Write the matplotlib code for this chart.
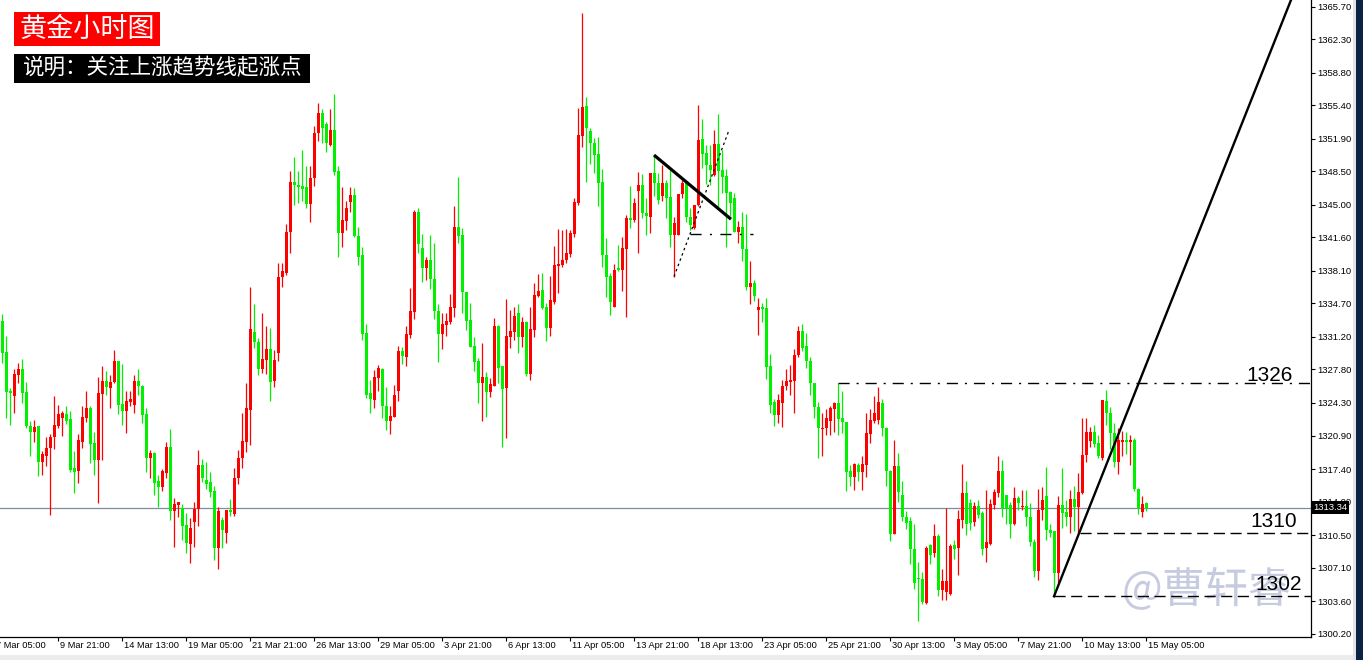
import matplotlib

matplotlib.use("Agg")
import matplotlib.pyplot as plt
import numpy as np
from matplotlib.patches import Rectangle
from matplotlib.transforms import blended_transform_factory

# 4H gold candles (price units)
opens = [
    1332.9, 1329.6, 1325.6, 1325.0, 1327.2, 1327.9, 1325.4, 1321.9, 1321.3, 1321.9,
    1318.1, 1318.8, 1319.6, 1320.7, 1321.9, 1322.7, 1323.1, 1322.6, 1317.5, 1317.2,
    1320.2, 1322.7, 1323.8, 1320.1, 1318.3, 1325.2, 1326.6, 1325.9, 1326.5, 1328.7,
    1324.2, 1323.5, 1324.4, 1324.1, 1326.6, 1326.1, 1323.1, 1318.6, 1319.1, 1316.2,
    1315.5, 1317.0, 1319.7, 1313.0, 1313.6, 1313.3, 1311.5, 1309.6, 1311.9, 1313.2,
    1317.8, 1316.3, 1316.0, 1315.1, 1309.2, 1312.1, 1310.7, 1313.1, 1312.7, 1316.5,
    1318.5, 1320.2, 1323.6, 1331.7, 1330.7, 1327.8, 1328.8, 1329.9, 1326.6, 1329.5,
    1337.5, 1337.9, 1342.2, 1347.4, 1347.1, 1347.0, 1346.9, 1345.1, 1347.8, 1352.5,
    1354.6, 1353.4, 1351.2, 1352.8, 1348.5, 1342.1, 1343.3, 1345.3, 1346.0, 1341.7,
    1339.8, 1331.6, 1325.3, 1324.6, 1326.9, 1327.9, 1324.0, 1322.4, 1322.8, 1325.5,
    1329.7, 1329.1, 1331.4, 1333.8, 1344.2, 1340.5, 1338.4, 1339.2, 1337.3, 1333.9,
    1331.5, 1332.4, 1332.8, 1334.2, 1342.7, 1341.8, 1335.9, 1333.0, 1330.3, 1328.7,
    1326.4, 1327.0, 1325.4, 1326.1, 1332.3, 1328.2, 1325.9, 1331.2, 1331.7, 1333.7,
    1331.2, 1332.8, 1327.3, 1331.9, 1335.5, 1336.1, 1334.3, 1332.1, 1334.9, 1338.6,
    1338.7, 1339.2, 1339.9, 1342.0, 1345.2, 1352.2, 1355.3, 1352.7, 1351.5, 1350.3,
    1347.4, 1339.8, 1337.6, 1334.3, 1338.4, 1338.2, 1340.4, 1343.6, 1343.4, 1346.4,
    1347.1, 1344.1, 1343.7, 1348.3, 1347.3, 1345.9, 1347.3, 1345.8, 1341.8, 1341.8,
    1346.1, 1347.4, 1343.7, 1342.6, 1345.0, 1351.9, 1350.4, 1349.2, 1348.1, 1351.4,
    1348.6, 1348.0, 1346.3, 1345.7, 1342.2, 1342.7, 1340.4, 1336.4, 1336.8, 1334.0,
    1334.3, 1334.2, 1328.2, 1324.4, 1323.0, 1324.3, 1326.1, 1326.5, 1326.6, 1329.3,
    1331.8, 1330.2, 1328.7, 1326.4, 1323.9, 1321.6, 1321.7, 1322.4, 1323.7, 1324.3,
    1322.7, 1322.3, 1317.2, 1316.6, 1317.8, 1317.1, 1317.8, 1321.1, 1322.4, 1322.5,
    1324.3, 1321.7, 1317.2, 1310.6, 1317.7, 1314.7, 1312.4, 1312.0, 1309.0, 1306.0,
    1305.9, 1303.4, 1309.5, 1308.6, 1310.4, 1304.8, 1304.6, 1304.3, 1309.5, 1309.1,
    1312.1, 1314.9, 1313.8, 1311.9, 1313.5, 1312.8, 1309.1, 1309.6, 1313.6, 1314.9,
    1317.2, 1314.7, 1313.6, 1311.7, 1314.4, 1313.4, 1313.5, 1312.4, 1309.8, 1306.7,
    1313.1, 1314.6, 1311.0, 1310.9, 1306.5, 1313.6, 1312.9, 1312.4, 1314.3, 1313.4,
    1314.9, 1318.9, 1320.3, 1321.3, 1320.1, 1318.6, 1324.5, 1323.3, 1321.2, 1318.1,
    1320.2, 1320.4, 1320.2, 1320.4, 1315.3, 1312.9, 1313.8,
]
highs = [
    1333.6, 1331.3, 1325.9, 1327.8, 1328.5, 1328.9, 1326.5, 1322.4, 1322.5, 1321.9,
    1319.3, 1320.7, 1321.1, 1325.0, 1324.1, 1323.5, 1324.0, 1323.5, 1319.3, 1321.1,
    1324.0, 1325.5, 1324.0, 1321.3, 1327.0, 1328.2, 1327.6, 1327.2, 1329.8, 1328.7,
    1328.4, 1325.5, 1325.5, 1327.2, 1327.8, 1326.2, 1323.8, 1319.4, 1319.2, 1316.8,
    1317.4, 1320.2, 1321.6, 1314.4, 1314.0, 1313.7, 1312.8, 1312.3, 1314.0, 1319.4,
    1318.4, 1318.1, 1317.1, 1315.6, 1313.4, 1312.4, 1313.1, 1314.3, 1317.5, 1319.4,
    1323.3, 1326.4, 1336.4, 1334.6, 1331.1, 1333.7, 1332.3, 1332.1, 1329.8, 1338.9,
    1338.9, 1343.0, 1348.5, 1350.0, 1348.5, 1350.7, 1349.1, 1349.1, 1353.2, 1355.6,
    1355.0, 1353.7, 1355.0, 1356.6, 1349.1, 1346.9, 1345.4, 1346.9, 1346.8, 1342.7,
    1340.6, 1332.6, 1326.7, 1327.7, 1328.3, 1328.0, 1326.0, 1324.0, 1326.2, 1330.3,
    1330.1, 1332.3, 1336.3, 1344.5, 1344.7, 1342.0, 1339.6, 1341.8, 1341.0, 1334.6,
    1333.7, 1333.7, 1335.7, 1344.9, 1347.9, 1342.6, 1335.9, 1334.7, 1331.2, 1329.0,
    1330.6, 1327.5, 1326.9, 1333.2, 1332.4, 1328.2, 1335.2, 1334.0, 1334.3, 1334.6,
    1333.3, 1332.9, 1334.3, 1336.8, 1337.8, 1337.9, 1334.7, 1337.6, 1340.7, 1342.5,
    1342.4, 1342.5, 1342.4, 1345.7, 1355.1, 1365.0, 1356.3, 1353.0, 1352.0, 1352.1,
    1348.7, 1341.5, 1337.9, 1338.8, 1340.8, 1341.6, 1343.9, 1347.0, 1345.7, 1348.4,
    1348.2, 1345.7, 1348.3, 1350.2, 1348.3, 1349.2, 1347.6, 1348.6, 1343.7, 1346.1,
    1347.6, 1347.4, 1344.7, 1345.0, 1355.4, 1354.0, 1351.2, 1351.2, 1352.8, 1354.5,
    1350.7, 1348.7, 1346.4, 1346.2, 1343.3, 1344.2, 1344.0, 1339.1, 1337.1, 1335.3,
    1334.7, 1335.3, 1329.4, 1324.7, 1325.2, 1326.7, 1327.8, 1328.3, 1329.9, 1332.3,
    1332.5, 1331.6, 1329.1, 1326.4, 1324.4, 1323.2, 1323.7, 1324.0, 1324.4, 1326.4,
    1325.6, 1322.3, 1317.8, 1318.0, 1318.0, 1318.8, 1323.2, 1323.7, 1325.0, 1326.0,
    1324.7, 1321.8, 1317.3, 1320.4, 1319.1, 1316.1, 1313.0, 1312.4, 1311.7, 1307.7,
    1306.6, 1309.4, 1309.6, 1311.7, 1310.6, 1307.0, 1313.3, 1309.6, 1310.0, 1313.1,
    1317.9, 1316.1, 1314.3, 1314.0, 1314.2, 1313.0, 1315.2, 1314.3, 1315.3, 1318.8,
    1318.3, 1314.7, 1314.0, 1315.5, 1314.6, 1315.2, 1315.2, 1313.8, 1310.1, 1315.3,
    1315.5, 1317.6, 1311.7, 1310.9, 1314.6, 1317.5, 1314.2, 1315.2, 1315.6, 1317.0,
    1322.7, 1322.7, 1321.8, 1322.0, 1321.0, 1324.6, 1325.7, 1323.9, 1322.2, 1321.7,
    1321.4, 1321.3, 1321.0, 1320.6, 1315.4, 1314.6, 1314.0,
]
lows = [
    1328.5, 1322.7, 1322.0, 1323.3, 1326.4, 1324.3, 1321.7, 1318.8, 1320.2, 1316.7,
    1316.8, 1317.7, 1312.6, 1319.5, 1321.7, 1320.9, 1322.1, 1317.1, 1314.9, 1315.9,
    1319.6, 1322.3, 1318.0, 1316.8, 1313.8, 1318.3, 1325.1, 1323.8, 1326.4, 1323.1,
    1322.0, 1321.2, 1324.0, 1323.2, 1325.1, 1322.2, 1317.1, 1316.5, 1314.7, 1313.4,
    1315.1, 1316.5, 1312.1, 1309.3, 1312.4, 1310.0, 1308.6, 1307.6, 1309.3, 1311.4,
    1316.0, 1315.3, 1314.5, 1307.9, 1307.0, 1309.2, 1309.7, 1312.5, 1312.5, 1315.8,
    1317.5, 1319.2, 1319.9, 1330.0, 1327.2, 1327.4, 1327.3, 1324.5, 1326.0, 1328.7,
    1336.4, 1337.7, 1340.0, 1345.0, 1345.2, 1345.4, 1344.7, 1343.2, 1347.0, 1351.7,
    1351.5, 1350.5, 1351.1, 1348.1, 1339.5, 1340.6, 1342.4, 1344.2, 1341.6, 1338.7,
    1330.9, 1324.8, 1323.2, 1323.8, 1325.6, 1322.7, 1321.5, 1321.1, 1322.8, 1324.5,
    1328.4, 1328.2, 1331.1, 1333.1, 1340.0, 1336.9, 1337.1, 1336.2, 1333.1, 1328.6,
    1329.9, 1331.3, 1332.6, 1333.3, 1341.0, 1333.7, 1331.9, 1330.1, 1327.6, 1324.3,
    1322.4, 1322.8, 1324.9, 1326.1, 1326.4, 1319.7, 1320.6, 1330.0, 1330.9, 1329.5,
    1330.1, 1327.1, 1326.7, 1331.2, 1335.4, 1334.1, 1330.8, 1331.3, 1334.6, 1335.8,
    1338.5, 1338.9, 1339.6, 1341.6, 1345.0, 1351.0, 1347.4, 1349.3, 1348.3, 1344.9,
    1338.5, 1335.4, 1333.5, 1334.3, 1338.1, 1336.0, 1333.3, 1342.6, 1343.2, 1340.0,
    1343.6, 1341.8, 1342.1, 1345.9, 1345.1, 1345.4, 1343.6, 1340.6, 1337.5, 1341.8,
    1345.7, 1343.2, 1342.4, 1342.5, 1344.9, 1348.9, 1347.2, 1347.1, 1348.0, 1344.8,
    1346.2, 1340.6, 1343.8, 1342.2, 1341.0, 1339.1, 1336.1, 1334.6, 1335.0, 1331.4,
    1332.8, 1326.8, 1323.2, 1321.9, 1322.2, 1321.8, 1325.7, 1325.1, 1323.2, 1329.1,
    1329.7, 1328.0, 1325.1, 1322.7, 1318.5, 1318.8, 1321.0, 1321.0, 1321.3, 1321.0,
    1321.2, 1315.1, 1315.6, 1315.2, 1316.1, 1315.2, 1316.6, 1320.1, 1322.2, 1322.1,
    1320.8, 1315.6, 1309.9, 1310.6, 1314.0, 1312.0, 1311.1, 1307.5, 1304.9, 1301.5,
    1303.3, 1303.3, 1307.5, 1308.2, 1304.1, 1303.7, 1303.7, 1304.2, 1308.0, 1306.3,
    1311.2, 1310.5, 1311.0, 1311.4, 1312.3, 1308.4, 1307.7, 1309.5, 1313.2, 1314.5,
    1312.4, 1311.7, 1310.2, 1311.6, 1313.1, 1313.1, 1311.4, 1309.4, 1306.1, 1305.8,
    1312.1, 1310.0, 1310.3, 1304.1, 1305.5, 1311.2, 1311.4, 1310.7, 1310.9, 1310.7,
    1314.8, 1318.1, 1319.7, 1319.7, 1318.6, 1318.3, 1322.0, 1319.5, 1317.6, 1316.9,
    1318.8, 1319.0, 1317.8, 1315.1, 1312.7, 1312.4, 1313.0,
]
closes = [
    1329.5, 1325.4, 1325.3, 1327.3, 1327.9, 1325.3, 1321.9, 1321.3, 1321.8, 1318.1,
    1319.0, 1319.6, 1320.7, 1322.0, 1323.1, 1323.2, 1322.4, 1317.3, 1317.1, 1320.4,
    1322.8, 1323.8, 1320.0, 1318.3, 1325.3, 1326.6, 1326.0, 1326.5, 1328.7, 1324.1,
    1323.5, 1324.5, 1324.7, 1326.6, 1326.1, 1323.0, 1318.6, 1319.1, 1315.9, 1315.5,
    1317.2, 1319.7, 1313.0, 1313.7, 1314.0, 1311.4, 1309.7, 1311.2, 1313.2, 1317.8,
    1316.5, 1315.8, 1315.0, 1309.2, 1313.0, 1311.0, 1313.1, 1312.9, 1316.5, 1318.5,
    1320.3, 1323.8, 1332.0, 1330.7, 1327.9, 1328.9, 1329.9, 1326.5, 1328.8, 1337.5,
    1338.1, 1342.2, 1347.4, 1347.1, 1346.9, 1346.7, 1345.1, 1347.8, 1352.5, 1354.6,
    1353.0, 1351.5, 1352.8, 1348.4, 1342.1, 1343.4, 1344.7, 1346.0, 1341.7, 1339.5,
    1331.5, 1325.1, 1324.7, 1327.0, 1328.0, 1324.0, 1322.4, 1322.9, 1325.1, 1329.7,
    1329.2, 1331.5, 1333.9, 1344.2, 1340.9, 1338.4, 1339.2, 1337.2, 1333.9, 1331.5,
    1332.5, 1332.9, 1334.3, 1342.7, 1341.7, 1335.9, 1332.9, 1330.1, 1328.6, 1326.4,
    1327.0, 1325.4, 1326.3, 1332.3, 1328.0, 1325.8, 1331.3, 1331.8, 1333.4, 1331.2,
    1332.8, 1327.3, 1332.0, 1335.6, 1336.0, 1334.2, 1332.1, 1335.1, 1338.7, 1338.8,
    1339.2, 1340.0, 1342.1, 1345.3, 1352.3, 1355.2, 1353.0, 1351.5, 1350.2, 1347.3,
    1339.8, 1337.5, 1334.8, 1338.2, 1338.2, 1340.5, 1343.6, 1343.4, 1345.2, 1347.1,
    1344.1, 1343.8, 1348.3, 1347.3, 1345.5, 1347.3, 1345.7, 1341.8, 1343.1, 1346.1,
    1347.3, 1343.7, 1342.9, 1345.0, 1351.8, 1350.3, 1349.2, 1348.6, 1351.4, 1348.5,
    1347.9, 1346.2, 1345.2, 1342.2, 1342.7, 1340.4, 1336.4, 1336.8, 1335.5, 1334.3,
    1334.1, 1328.1, 1324.1, 1323.0, 1324.6, 1326.1, 1326.6, 1326.7, 1329.3, 1331.8,
    1330.0, 1328.7, 1326.4, 1323.9, 1321.7, 1321.7, 1322.7, 1323.8, 1324.3, 1322.6,
    1322.3, 1317.1, 1316.6, 1317.9, 1317.1, 1317.9, 1321.2, 1322.5, 1323.2, 1324.4,
    1321.7, 1317.2, 1310.6, 1317.7, 1315.0, 1312.4, 1311.8, 1309.0, 1305.5, 1305.9,
    1303.5, 1309.1, 1308.4, 1310.4, 1304.8, 1305.7, 1305.7, 1309.4, 1309.0, 1312.2,
    1314.9, 1311.7, 1311.8, 1313.5, 1312.6, 1309.0, 1309.8, 1313.7, 1315.0, 1317.2,
    1313.3, 1313.3, 1311.7, 1314.4, 1313.9, 1313.5, 1312.4, 1309.8, 1306.7, 1313.1,
    1314.2, 1311.0, 1310.7, 1306.5, 1313.6, 1312.8, 1312.4, 1314.3, 1313.4, 1315.0,
    1318.9, 1321.3, 1321.3, 1320.0, 1318.8, 1324.6, 1323.3, 1321.2, 1318.1, 1320.4,
    1320.4, 1320.2, 1320.4, 1315.3, 1313.3, 1313.7, 1313.3,
]

date_labels = [
    "7 Mar 05:00", "9 Mar 21:00", "14 Mar 13:00", "19 Mar 05:00", "21 Mar 21:00",
    "26 Mar 13:00", "29 Mar 05:00", "3 Apr 21:00", "6 Apr 13:00", "11 Apr 05:00",
    "13 Apr 21:00", "18 Apr 13:00", "23 Apr 05:00", "25 Apr 21:00", "30 Apr 13:00",
    "3 May 05:00", "7 May 21:00", "10 May 13:00", "15 May 05:00",
]
price_ticks = [1365.70, 1362.30, 1358.80, 1355.40, 1351.90, 1348.50, 1345.00,
               1341.60, 1338.10, 1334.70, 1331.20, 1327.80, 1324.30, 1320.90,
               1317.40, 1314.00, 1310.50, 1307.10, 1303.60, 1300.20]
last_price = 1313.34
level_labels = ["1326", "1310", "1302"]

n = len(opens)
assert len(highs) == n and len(lows) == n and len(closes) == n, \
    (len(opens), len(highs), len(lows), len(closes))

W, H = 1363, 660
plt.rcParams["font.family"] = ["Liberation Sans", "DejaVu Sans"]
fig = plt.figure(figsize=(W / 100, H / 100), dpi=100)
ax = fig.add_axes([0, 23 / H, 1311 / W, 637 / H])

o = np.array(opens)
h = np.array(highs)
l = np.array(lows)
c = np.array(closes)
x = np.arange(n)
col = np.where(c >= o, "#ff0000", "#00f000")

ax.vlines(x, l, h, colors=col, linewidth=0.9, zorder=3)
ax.bar(x, np.maximum(np.abs(c - o), 0.12), bottom=np.minimum(o, c), width=0.75,
       color=col, linewidth=0, zorder=4)

xmax = 327.25
ax.set_xlim(-0.5, xmax)
ax.set_ylim(1299.85, 1366.4)

# current price line
ax.axhline(last_price, color="#7d8ca3", lw=0.9, zorder=2)

# analyst drawings
ax.plot([163, 182.25], [h[163], 1343.5], color="black", lw=2.3, zorder=6,
        solid_capstyle="butt")
ax.plot([168, 181.75], [l[168], 1352.8], color="black", lw=0.9,
        ls=(0, (2, 2.5)), zorder=6)
ax.plot([172, 187.75], [1342.0, 1342.0], color="black", lw=1.0,
        ls=(0, (8, 6, 1.5, 6)), zorder=6)
ax.hlines(h[209], 209, xmax, color="black", lw=1.0, ls=(0, (8, 5, 1.5, 5)), zorder=6)
ax.hlines(l[269], 269.5, xmax, color="black", lw=1.0, ls=(0, (8, 4)), zorder=6)
ax.hlines(l[263], 263, xmax, color="black", lw=1.0, ls=(0, (8, 4)), zorder=6)
slope = 1.0515
ax.plot([263, 335], [l[263], l[263] + slope * (335 - 263)], color="black",
        lw=1.7, zorder=6)

for lab, xr, yb in zip(level_labels, [322.75, 323.75, 325.0], [1326.6, 1311.3, 1304.8]):
    ax.text(xr, yb, lab, ha="right", va="baseline", fontsize=15, color="black",
            zorder=8)

ax.text(1207 / W, 1 - 590 / H, "@曹轩睿", transform=fig.transFigure,
        ha="center", va="center", fontsize=31, color="#c6cbe0",
        family=["Noto Sans CJK SC", "DejaVu Sans"], zorder=1)

# axes styling
for s in ["top", "left"]:
    ax.spines[s].set_visible(False)
for s in ["right", "bottom"]:
    ax.spines[s].set_color("black")
    ax.spines[s].set_linewidth(0.9)

ax.yaxis.tick_right()
ax.set_yticks(price_ticks)
ax.set_yticklabels([f"{p:.2f}" for p in price_ticks])
ax.tick_params(axis="y", direction="out", length=3, width=0.8, pad=1.8,
               labelsize=6.8, colors="black")

tick_k = [286 - 16 * (len(date_labels) - 1 - i) for i in range(len(date_labels))]
ax.set_xticks([k for k in tick_k if k >= 0])
ax.set_xticklabels([])
ax.tick_params(axis="x", direction="out", length=3, width=0.8)
tr = blended_transform_factory(ax.transData, ax.transAxes)
for k, lab in zip(tick_k, date_labels):
    ax.text(k + 0.4, -4 / 637, lab, transform=tr, ha="left", va="top",
            fontsize=6.7, color="black", clip_on=False)

ax.text(1.0015, last_price, f"{last_price:.2f}",
        transform=blended_transform_factory(ax.transAxes, ax.transData),
        ha="left", va="center", fontsize=6.8, color="white", zorder=10,
        clip_on=False,
        bbox=dict(boxstyle="square,pad=0.2", facecolor="black", edgecolor="none"))

# window frame pieces
fig.add_artist(Rectangle((0, 0), 1353 / W, 5 / H, transform=fig.transFigure,
                         facecolor="#ececec", edgecolor="none"))
fig.add_artist(Rectangle((1353 / W, 0), 3 / W, 1, transform=fig.transFigure,
                         facecolor="#e4e4e4", edgecolor="none"))
fig.add_artist(Rectangle((1356 / W, 0), 7 / W, 1, transform=fig.transFigure,
                         facecolor="#0c2244", edgecolor="none"))

# title boxes
cjk = ["Noto Sans CJK SC", "DejaVu Sans"]
fig.add_artist(Rectangle((14 / W, 1 - 46 / H), 146 / W, 34 / H,
                         transform=fig.transFigure, facecolor="#ff0000",
                         edgecolor="none"))
fig.text(87 / W, 1 - 29.5 / H, "黄金小时图", ha="center", va="center",
         fontsize=19.5, color="white", family=cjk)
fig.add_artist(Rectangle((14 / W, 1 - 83 / H), 296 / W, 29 / H,
                         transform=fig.transFigure, facecolor="black",
                         edgecolor="none"))
fig.text(162 / W, 1 - 68.5 / H, "说明：关注上涨趋势线起涨点", ha="center",
         va="center", fontsize=15.5, color="white", family=cjk)

fig.savefig("out.png", dpi=100)
